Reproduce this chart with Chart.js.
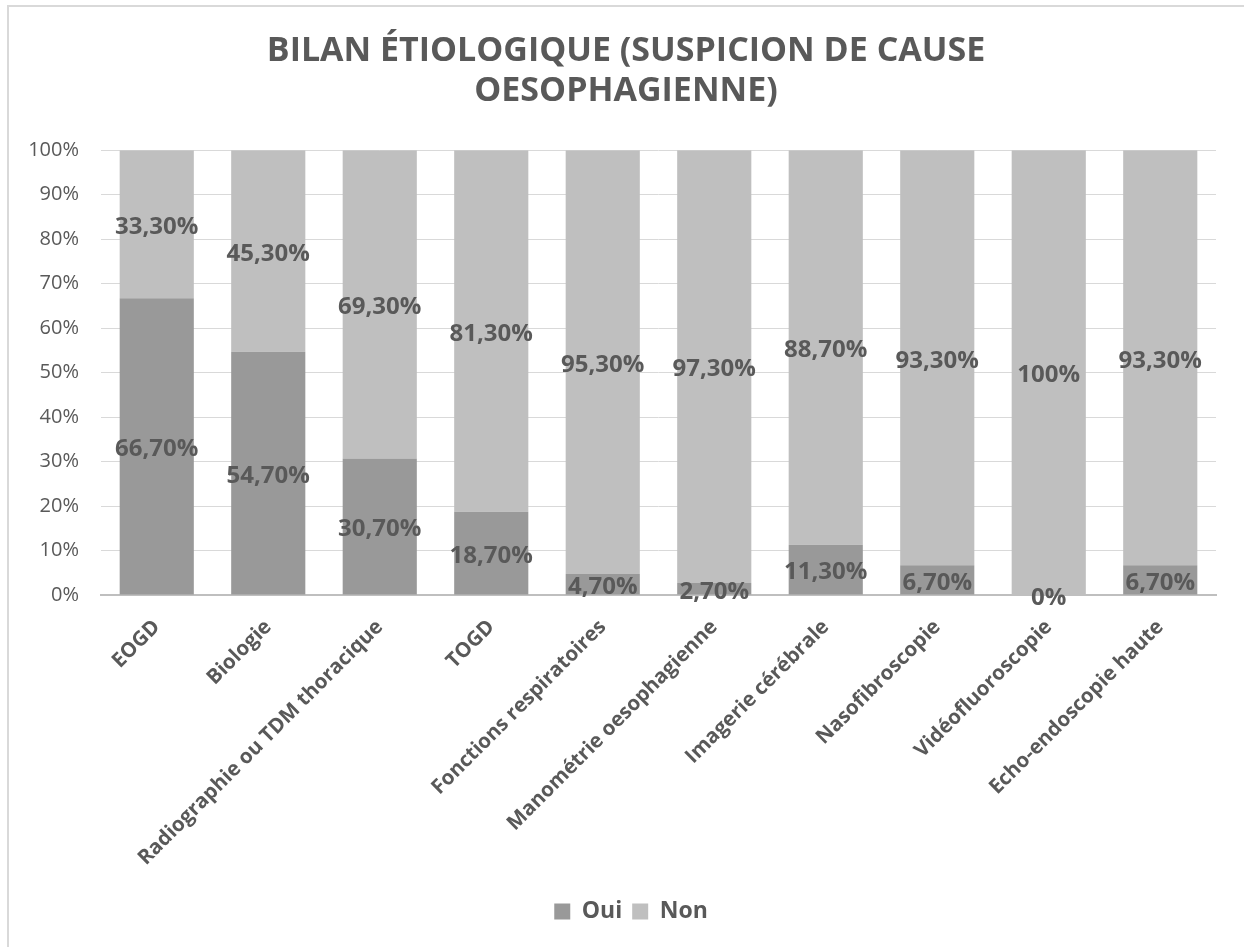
<!DOCTYPE html>
<html lang="fr">
<head>
<meta charset="utf-8">
<title>Bilan étiologique</title>
<script src="https://cdn.jsdelivr.net/npm/chart.js@4.4.1/dist/chart.umd.min.js"></script>
<style>
  html, body { margin: 0; padding: 0; background: #ffffff; overflow: hidden; }
  #wrap { position: relative; width: 1244px; height: 947px; }
  #frame {
    position: absolute; left: 7px; top: 5px; width: 1300px; height: 1000px;
    border-left: 2px solid #d9d9d9; border-top: 2px solid #d9d9d9; box-sizing: border-box;
  }
  #chart { position: absolute; left: 0; top: 0; }
</style>
</head>
<body>
<div id="wrap">
  <div id="frame"></div>
  <canvas id="chart" width="1244" height="947"></canvas>
</div>
<script>
// Examens réalisés
const categories = [
  "EOGD",
  "Biologie",
  "Radiographie ou TDM thoracique",
  "TOGD",
  "Fonctions respiratoires",
  "Manométrie oesophagienne",
  "Imagerie cérébrale",
  "Nasofibroscopie",
  "Vidéofluoroscopie",
  "Echo-endoscopie haute"
];

// Pourcentages par réponse
const ouiValues = [66.7, 54.7, 30.7, 18.7, 4.7, 2.7, 11.3, 6.7, 0, 6.7];
const nonValues = [33.3, 45.3, 69.3, 81.3, 95.3, 97.3, 88.7, 93.3, 100, 93.3];

// Graduations de l'axe vertical
const yTicks = [0, 10, 20, 30, 40, 50, 60, 70, 80, 90, 100];

const TEXT = "#595959";
const FONT = "'Open Sans', 'Noto Sans', sans-serif";

function pct(v) {
  return Number.isInteger(v) ? v + "%" : v.toFixed(2).replace(".", ",") + "%";
}

// Étiquettes de valeur centrées dans chaque segment
const segmentLabels = {
  id: "segmentLabels",
  afterDatasetsDraw(chart) {
    const ctx = chart.ctx;
    ctx.save();
    ctx.font = "bold 24px " + FONT;
    ctx.fillStyle = TEXT;
    ctx.textAlign = "center";
    ctx.textBaseline = "middle";
    chart.data.datasets.forEach((ds, di) => {
      const meta = chart.getDatasetMeta(di);
      meta.data.forEach((bar, i) => {
        const p = bar.getProps(["x", "y", "base"], true);
        ctx.fillText(pct(ds.data[i]), p.x, (p.y + p.base) / 2 + 3);
      });
    });
    ctx.restore();
  }
};

// Titre et légende centrés sur la zone de tracé plutôt que sur tout le cadre
const centerBlocks = {
  id: "centerBlocks",
  afterLayout(chart) {
    if (chart.titleBlock) chart.titleBlock.left += 28;
    if (chart.legend) chart.legend.left += 38;
  }
};

new Chart(document.getElementById("chart"), {
  type: "bar",
  data: {
    labels: categories,
    datasets: [
      { label: "Oui", data: ouiValues, backgroundColor: "#999999", borderWidth: 0 },
      { label: "Non", data: nonValues, backgroundColor: "#bfbfbf", borderWidth: 0 }
    ]
  },
  options: {
    responsive: false,
    animation: false,
    devicePixelRatio: 1,
    datasets: { bar: { categoryPercentage: 1, barPercentage: 0.665 } },
    layout: { padding: { left: 8, right: 28, top: 0, bottom: 14 } },
    plugins: {
      tooltip: { enabled: false },
      title: {
        display: true,
        text: ["BILAN ÉTIOLOGIQUE (SUSPICION DE CAUSE", "OESOPHAGIENNE)"],
        color: TEXT,
        font: { family: FONT, size: 34, weight: "bold", lineHeight: 1.18 },
        padding: { top: 31, bottom: 39 }
      },
      legend: {
        position: "bottom",
        labels: {
          color: TEXT,
          font: { family: FONT, size: 23, weight: "bold" },
          boxWidth: 16,
          boxHeight: 16,
          padding: 10
        }
      }
    },
    scales: {
      x: {
        stacked: true,
        grid: { display: false },
        border: { color: "#bfbfbf", width: 2 },
        ticks: {
          color: TEXT,
          font: { family: FONT, size: 20.5, weight: "bold" },
          autoSkip: false,
          maxRotation: 45,
          minRotation: 45,
          padding: 12
        },
        afterFit(scale) { scale.height = 295; }
      },
      y: {
        stacked: true,
        min: 0,
        max: 100,
        afterBuildTicks(scale) { scale.ticks = yTicks.map(v => ({ value: v })); },
        grid: { color: "#d9d9d9", lineWidth: 1, drawTicks: false },
        border: { display: false },
        ticks: {
          color: TEXT,
          font: { family: FONT, size: 20 },
          padding: 22,
          callback: v => v + "%"
        },
        afterFit(scale) { scale.width = 93; }
      }
    }
  },
  plugins: [segmentLabels, centerBlocks]
});
</script>
</body>
</html>
